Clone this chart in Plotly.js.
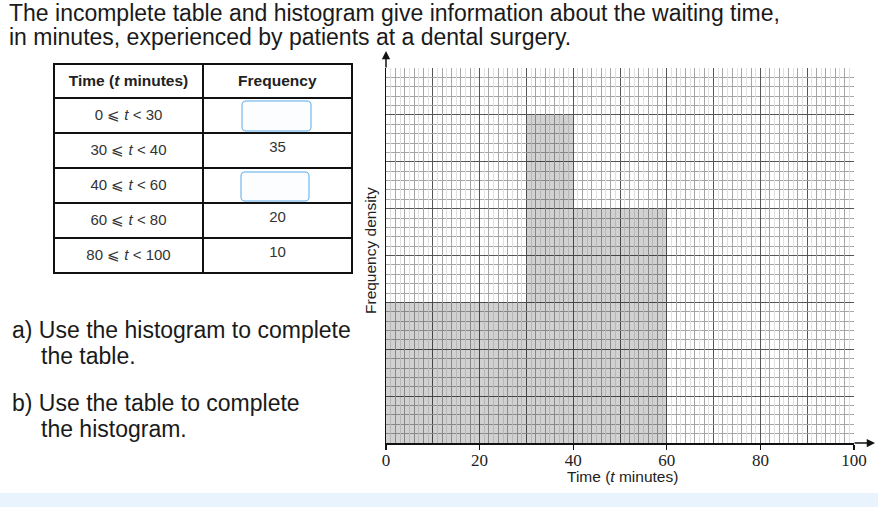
<!DOCTYPE html>
<html>
<head>
<meta charset="utf-8">
<script src="https://cdn.plot.ly/plotly-3.0.1.min.js"></script>
<style>
  html, body { margin: 0; padding: 0; background: #fff; }
  #chart { width: 880px; height: 507px; }
</style>
</head>
<body>
<div id="chart"></div>
<script>
// ---- Data ----
const classStart = [0, 30, 40];          // histogram bars drawn in the reference
const classEnd = [30, 40, 60];
const freqDensity = [1.5, 3.5, 2.5];

const tableIntervals = ['0 ⩽ <i>t</i> < 30', '30 ⩽ <i>t</i> < 40', '40 ⩽ <i>t</i> < 60', '60 ⩽ <i>t</i> < 80', '80 ⩽ <i>t</i> < 100'];
const tableFreq = ['', '35', '', '20', '10'];

const xTickVals = [0, 20, 40, 60, 80, 100];
const xTickText = ['0', '20', '40', '60', '80', '100'];

// ---- Helpers (pixel -> paper) ----
const W = 880, H = 507;
const px = v => v / W;
const py = v => 1 - v / H;

const mids = classStart.map((s, i) => (s + classEnd[i]) / 2);
const widths = classStart.map((s, i) => classEnd[i] - s);

const tens = [10, 30, 50, 70, 90];
const evens = [], odds = [];
for (let v = 1; v < 100; v++) {
  if (v % 10 === 0) continue;
  if (v % 2 === 0) evens.push(v); else odds.push(v);
}

const traces = [
  {
    type: 'bar', x: mids, y: freqDensity, width: widths,
    marker: { color: 'rgba(0,0,0,0.18)', line: { width: 0 } },
    hoverinfo: 'skip', xaxis: 'x', yaxis: 'y'
  },
  {
    type: 'scatter', x: [], y: [], xaxis: 'x2', yaxis: 'y',
    hoverinfo: 'skip', showlegend: false
  },
  {
    type: 'table',
    domain: { x: [px(54), px(352)], y: [py(274), py(64)] },
    columnwidth: [1, 1],
    header: {
      values: ['<b>Time (<i>t</i> minutes)</b>', '<b>Frequency</b>'],
      align: 'center', height: 34,
      line: { color: '#111', width: 2 },
      fill: { color: '#fff' },
      font: { family: 'Liberation Sans, Arial, sans-serif', size: 15.5, color: '#222' }
    },
    cells: {
      values: [tableIntervals, tableFreq],
      align: 'center', height: 35,
      line: { color: '#111', width: 2 },
      fill: { color: '#fff' },
      font: { family: 'Liberation Sans, Arial, sans-serif', size: 15, color: '#333' }
    }
  }
];

function roundRect(x0, y0, x1, y1, r) {
  const X = v => px(v).toFixed(5), Y = v => py(v).toFixed(5);
  return 'M ' + X(x0 + r) + ' ' + Y(y0) + ' L ' + X(x1 - r) + ' ' + Y(y0) +
    ' Q ' + X(x1) + ' ' + Y(y0) + ' ' + X(x1) + ' ' + Y(y0 + r) +
    ' L ' + X(x1) + ' ' + Y(y1 - r) +
    ' Q ' + X(x1) + ' ' + Y(y1) + ' ' + X(x1 - r) + ' ' + Y(y1) +
    ' L ' + X(x0 + r) + ' ' + Y(y1) +
    ' Q ' + X(x0) + ' ' + Y(y1) + ' ' + X(x0) + ' ' + Y(y1 - r) +
    ' L ' + X(x0) + ' ' + Y(y0 + r) +
    ' Q ' + X(x0) + ' ' + Y(y0) + ' ' + X(x0 + r) + ' ' + Y(y0) + ' Z';
}

const titleFont = { family: 'Liberation Sans, Arial, sans-serif', size: 23, color: '#1a1a1a' };
const qFont = { family: 'Liberation Sans, Arial, sans-serif', size: 23, color: '#1a1a1a' };

const annotations = [
  { text: 'The incomplete table and histogram give information about the waiting time,', x: px(7), y: py(13), font: titleFont },
  { text: 'in minutes, experienced by patients at a dental surgery.', x: px(7), y: py(37), font: titleFont },
  { text: 'a) Use the histogram to complete', x: px(10), y: py(330), font: qFont },
  { text: 'the table.', x: px(39), y: py(356), font: qFont },
  { text: 'b) Use the table to complete', x: px(10), y: py(403), font: qFont },
  { text: 'the histogram.', x: px(39), y: py(429), font: qFont }
].map(a => Object.assign({
  xref: 'paper', yref: 'paper', xanchor: 'left', yanchor: 'middle', showarrow: false
}, a));

annotations.push(
  { text: 'Frequency density', xref: 'paper', yref: 'paper', x: px(370), y: py(251),
    textangle: -90, showarrow: false, xanchor: 'center', yanchor: 'middle',
    font: { family: 'Liberation Sans, Arial, sans-serif', size: 15.5, color: '#222' } },
  { text: 'Time (<i>t</i> minutes)', xref: 'paper', yref: 'paper', x: px(622), y: py(476),
    showarrow: false, xanchor: 'center', yanchor: 'middle',
    font: { family: 'Liberation Sans, Arial, sans-serif', size: 15.5, color: '#222' } },
  // axis arrows
  { text: '', xref: 'paper', yref: 'paper', x: px(386), y: py(51), ax: 0, ay: 18,
    showarrow: true, arrowhead: 2, arrowsize: 1.1, arrowwidth: 1.5, arrowcolor: '#111' },
  { text: '', xref: 'paper', yref: 'paper', x: px(875), y: py(443), ax: -22, ay: 0,
    showarrow: true, arrowhead: 2, arrowsize: 1.1, arrowwidth: 1.5, arrowcolor: '#111' }
);

const layout = {
  width: W, height: H,
  margin: { l: 0, r: 0, t: 0, b: 0 },
  paper_bgcolor: '#fff', plot_bgcolor: '#fff',
  showlegend: false,
  xaxis: {
    domain: [px(386), px(854)], range: [0, 100], fixedrange: true,
    tickmode: 'array', tickvals: xTickVals, ticktext: xTickText,
    ticks: 'outside', ticklen: 5, tickwidth: 1.2, tickcolor: '#111',
    ticklabelstandoff: -4,
    tickfont: { family: 'Liberation Serif, Times New Roman, serif', size: 17, color: '#222' },
    showgrid: true, gridcolor: '#555', gridwidth: 1,
    minor: { tickmode: 'array', tickvals: tens, showgrid: true, gridcolor: '#555', gridwidth: 1, ticks: '' },
    showline: true, linecolor: '#111', linewidth: 1.5, zeroline: false,
    anchor: 'y'
  },
  xaxis2: {
    overlaying: 'x', range: [0, 100], fixedrange: true, anchor: 'y',
    tickmode: 'array', tickvals: evens, showticklabels: false, ticks: '',
    showgrid: true, gridcolor: '#a6a6a6', gridwidth: 1,
    minor: { tickmode: 'array', tickvals: odds, showgrid: true, gridcolor: '#e0e0e0', gridwidth: 1, ticks: '' },
    showline: false, zeroline: false
  },
  yaxis: {
    domain: [py(443), py(68)], range: [0, 4], fixedrange: true,
    dtick: 0.5, tick0: 0, showticklabels: false, ticks: '',
    showgrid: true, gridcolor: '#555', gridwidth: 1,
    minor: { dtick: 0.1, tick0: 0, showgrid: true, gridcolor: '#a6a6a6', gridwidth: 1, ticks: '' },
    showline: true, linecolor: '#111', linewidth: 1.5, zeroline: false,
    anchor: 'x'
  },
  shapes: [
    { type: 'rect', xref: 'paper', yref: 'paper', x0: 0, x1: px(878), y0: 0, y1: py(493),
      fillcolor: '#e8f3fd', line: { width: 0 }, layer: 'below' },
    { type: 'path', xref: 'paper', yref: 'paper', path: roundRect(242, 101, 311, 131, 4),
      fillcolor: '#fcfdff', line: { color: '#5aa9e6', width: 1 }, layer: 'above' },
    { type: 'path', xref: 'paper', yref: 'paper', path: roundRect(241, 172, 309, 201, 4),
      fillcolor: '#fcfdff', line: { color: '#5aa9e6', width: 1 }, layer: 'above' }
  ],
  annotations: annotations
};

Plotly.newPlot('chart', traces, layout, { displayModeBar: false, staticPlot: true });
</script>
</body>
</html>
